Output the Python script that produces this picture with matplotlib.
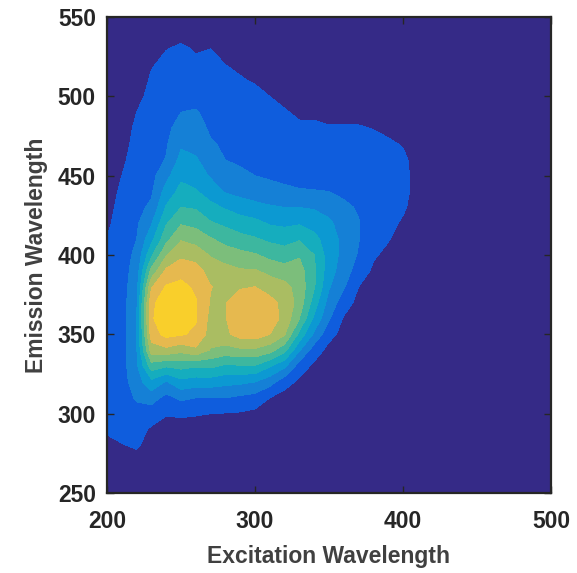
import matplotlib
matplotlib.use("Agg")
import matplotlib.pyplot as plt
import numpy as np

plt.rcParams["font.family"] = ["Liberation Sans", "DejaVu Sans"]
plt.rcParams["font.weight"] = "bold"

# Excitation / emission grid (nm)
excitation = np.arange(200, 411, 10)
emission = np.arange(270, 541, 10)

# Fluorescence intensity, one list per excitation column, emission 270 -> 540
intensity_cols = [
    # 200
    [0, 0.3, 0.6, 0.8, 0.8, 0.8, 0.8, 0.8, 0.8, 0.8, 0.8, 0.8, 0.8, 0.8, 0.55, 0.3, 0.1, 0, 0, 0, 0, 0, 0, 0, 0, 0, 0, 0],
    # 210
    [0, 0.45, 0.8, 1.0, 1.1, 1.1, 1.1, 1.1, 1.1, 1.1, 1.1, 1.1, 1.1, 1.1, 1.0, 1.0, 0.9, 0.7, 0.5, 0.3, 0.1, 0, 0, 0, 0, 0, 0, 0],
    # 220
    [0.2, 0.6, 0.9, 1.2, 1.6, 2.0, 2.3, 2.4, 2.4, 2.4, 2.3, 2.1, 1.9, 1.7, 1.5, 1.35, 1.2, 1.1, 1.0, 0.95, 0.85, 0.7, 0.5, 0.3, 0.1, 0, 0, 0],
    # 230
    [0, 0.2, 0.35, 1.0, 1.9, 3.2, 5.0, 7.0, 8.0, 8.4, 8.3, 7.4, 5.8, 4.3, 3.2, 2.4, 1.7, 1.35, 1.2, 1.1, 1.0, 0.9, 0.8, 0.7, 0.6, 0.45, 0.2, 0],
    # 240
    [0, 0.05, 0.2, 0.55, 1.2, 2.4, 4.6, 7.2, 8.8, 9.0, 9.0, 8.6, 7.7, 6.4, 5.2, 4.4, 3.6, 2.9, 2.2, 1.55, 1.4, 1.25, 1.1, 0.95, 0.8, 0.65, 0.48, 0.2],
    # 250
    [0, 0, 0.2, 0.6, 1.7, 3.2, 4.8, 6.8, 8.6, 9.1, 9.1, 8.8, 8.1, 7.3, 6.4, 5.4, 4.5, 3.8, 3.3, 2.8, 2.35, 1.9, 1.5, 1.25, 1.0, 0.8, 0.6, 0.3],
    # 260
    [0, 0, 0.2, 0.55, 1.5, 3.0, 4.6, 7.3, 8.3, 8.6, 8.6, 8.3, 7.9, 7.1, 6.1, 5.2, 4.4, 3.6, 3.0, 2.6, 2.2, 1.9, 1.6, 1.1, 0.85, 0.6, 0.45, 0.2],
    # 270
    [0, 0, 0.2, 0.5, 1.5, 3.0, 4.7, 6.4, 7.1, 7.2, 7.4, 7.55, 7.1, 6.4, 5.6, 4.6, 3.8, 3.0, 2.4, 2.0, 1.6, 1.35, 1.15, 1.0, 0.8, 0.65, 0.5, 0.15],
    # 280
    [0, 0, 0.1, 0.45, 1.5, 2.8, 4.3, 6.1, 7.3, 7.45, 7.45, 7.1, 6.8, 6.1, 5.1, 4.3, 3.4, 2.4, 2.0, 1.5, 1.35, 1.2, 1.05, 0.9, 0.7, 0.5, 0.3, 0],
    # 290
    [0, 0, 0.1, 0.4, 1.3, 2.7, 4.4, 6.3, 7.9, 8.2, 8.0, 7.4, 6.6, 5.8, 4.8, 4.0, 3.0, 2.2, 1.7, 1.35, 1.2, 1.05, 0.9, 0.75, 0.55, 0.4, 0.15, 0],
    # 300
    [0, 0, 0, 0.25, 1.1, 2.5, 4.4, 6.3, 8.0, 8.3, 8.2, 7.5, 6.6, 5.6, 4.6, 3.8, 2.8, 2.0, 1.5, 1.3, 1.1, 0.95, 0.8, 0.65, 0.45, 0.3, 0, 0],
    # 310
    [0, 0, 0, 0.1, 0.5, 1.9, 3.6, 5.9, 7.5, 8.0, 7.8, 7.1, 6.2, 5.2, 4.3, 3.4, 2.6, 1.9, 1.35, 1.1, 0.95, 0.8, 0.65, 0.5, 0.3, 0.1, 0, 0],
    # 320
    [0, 0, 0, 0, 0.1, 0.9, 2.7, 4.8, 6.6, 7.2, 7.2, 6.8, 5.9, 5.0, 4.1, 3.3, 2.5, 1.7, 1.25, 1.0, 0.85, 0.7, 0.55, 0.35, 0.1, 0, 0, 0],
    # 330
    [0, 0, 0, 0, 0, 0.3, 1.0, 2.6, 4.2, 5.5, 6.1, 6.1, 5.9, 5.4, 4.4, 3.4, 2.5, 1.6, 1.1, 0.9, 0.75, 0.6, 0.4, 0.15, 0, 0, 0, 0],
    # 340
    [0, 0, 0, 0, 0, 0, 0.3, 1.0, 2.3, 3.3, 4.0, 4.6, 4.7, 4.5, 3.8, 3.1, 2.4, 1.55, 1.1, 0.9, 0.75, 0.6, 0.4, 0.1, 0, 0, 0, 0],
    # 350
    [0, 0, 0, 0, 0, 0, 0, 0.2, 0.8, 1.6, 2.1, 2.6, 2.9, 3.0, 3.0, 2.7, 2.1, 1.5, 1.1, 0.9, 0.7, 0.55, 0.3, 0, 0, 0, 0, 0],
    # 360
    [0, 0, 0, 0, 0, 0, 0, 0, 0.2, 0.4, 1.0, 1.6, 2.0, 2.2, 2.2, 2.0, 1.7, 1.3, 1.0, 0.85, 0.7, 0.55, 0.3, 0, 0, 0, 0, 0],
    # 370
    [0, 0, 0, 0, 0, 0, 0, 0, 0, 0, 0.2, 0.5, 1.0, 1.4, 1.55, 1.55, 1.4, 1.1, 0.9, 0.8, 0.7, 0.55, 0.3, 0, 0, 0, 0, 0],
    # 380
    [0, 0, 0, 0, 0, 0, 0, 0, 0, 0, 0, 0.1, 0.35, 0.6, 0.8, 0.95, 0.95, 0.9, 0.85, 0.75, 0.65, 0.48, 0.2, 0, 0, 0, 0, 0],
    # 390
    [0, 0, 0, 0, 0, 0, 0, 0, 0, 0, 0, 0, 0.1, 0.3, 0.55, 0.7, 0.75, 0.8, 0.75, 0.7, 0.6, 0.35, 0.1, 0, 0, 0, 0, 0],
    # 400
    [0, 0, 0, 0, 0, 0, 0, 0, 0, 0, 0, 0, 0, 0, 0.2, 0.4, 0.6, 0.7, 0.7, 0.65, 0.45, 0.1, 0, 0, 0, 0, 0, 0],
    # 410
    [0, 0, 0, 0, 0, 0, 0, 0, 0, 0, 0, 0, 0, 0, 0, 0, 0.2, 0.25, 0.25, 0.2, 0, 0, 0, 0, 0, 0, 0, 0],
]

levels = np.arange(0.5, 10.0, 1.0)
band_colors = ["#0f5ddd", "#1580d6", "#0c99d2", "#15adbe", "#3db79f",
               "#7cbe7b", "#aabd62", "#e6b94f", "#f9cf2b"]
background = "#352a87"

intensity = np.array(intensity_cols).T

fig = plt.figure(figsize=(5.77, 5.73), dpi=100)
ax = fig.add_axes([0.1854, 0.1396, 0.7695, 0.8307])
ax.set_facecolor(background)

ax.contourf(excitation, emission, intensity, levels=levels, colors=band_colors)

ax.set_xlim(200, 500)
ax.set_ylim(250, 550)
ax.set_xticks([200, 300, 400, 500])
ax.set_yticks([250, 300, 350, 400, 450, 500, 550])
ax.tick_params(direction="in", top=True, right=True, length=5, width=1,
               labelsize=16.5, colors="#262626")
ax.tick_params(axis="x", pad=12)
ax.tick_params(axis="y", pad=8)
for spine in ax.spines.values():
    spine.set_linewidth(1.6)
    spine.set_color("#262626")

ax.set_xlabel("Excitation Wavelength", fontsize=16.5, fontweight="bold",
              color="#404040", labelpad=9)
ax.set_ylabel("Emission Wavelength", fontsize=16.5, fontweight="bold",
              color="#404040", labelpad=7)

fig.savefig("out.png", dpi=100, facecolor="white")
